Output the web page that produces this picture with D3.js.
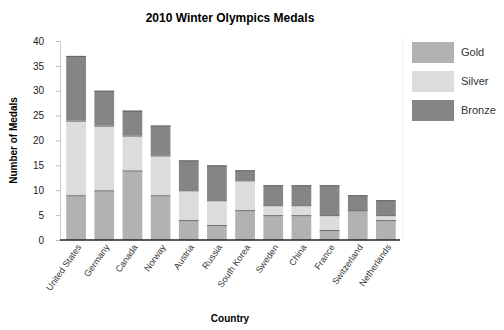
<!DOCTYPE html>
<html><head><meta charset="utf-8">
<script src="https://cdn.jsdelivr.net/npm/d3@7"></script>
<style>body{margin:0;background:#fff;}text{font-family:"Liberation Sans",Arial,sans-serif;}</style>
</head><body><svg id="c" width="504" height="330"></svg>
<script>
const countries = ["United States","Germany","Canada","Norway","Austria","Russia","South Korea","Sweden","China","France","Switzerland","Netherlands"];
const gold   = [9,10,14,9,4,3,6,5,5,2,6,4];
const silver = [15,13,7,8,6,5,6,2,2,3,0,1];
const bronze = [13,7,5,6,6,7,2,4,4,6,3,3];
const medalTypes = ["Gold","Silver","Bronze"];
const colors = ["#b2b2b2","#dcdcdc","#858585"];
const yTicks = [0,5,10,15,20,25,30,35,40];

const svg = d3.select("#c");
const margin = {left:62, right:104, top:41, bottom:90};
const W = 504, H = 330;
const x = d3.scaleBand().domain(countries).range([margin.left, W-margin.right]).paddingInner(0.3).paddingOuter(0.15);
const y = d3.scaleLinear().domain([0,40]).range([H-margin.bottom, margin.top]);

const rows = countries.map((c,i)=>({country:c, Gold:gold[i], Silver:silver[i], Bronze:bronze[i]}));
const stack = d3.stack().keys(medalTypes)(rows);

svg.append("text").attr("x",230).attr("y",22).attr("text-anchor","middle")
  .attr("font-size",12).attr("font-weight","bold").text("2010 Winter Olympics Medals");

stack.forEach((s,k)=>{
  svg.append("g").selectAll("rect").data(s).join("rect")
    .attr("x",d=>x(d.data.country)).attr("width",x.bandwidth())
    .attr("y",d=>y(d[1])).attr("height",d=>y(d[0])-y(d[1]))
    .attr("fill",colors[k]);
  svg.append("g").selectAll("line").data(s.filter(d=>d[1]>d[0])).join("line")
    .attr("x1",d=>x(d.data.country)).attr("x2",d=>x(d.data.country)+x.bandwidth())
    .attr("y1",d=>y(d[1])+0.5).attr("y2",d=>y(d[1])+0.5)
    .attr("stroke","#666").attr("stroke-width",1);
});

const ya = svg.append("g").attr("transform",`translate(${margin.left-2},0)`)
  .call(d3.axisLeft(y).tickValues(yTicks).tickSize(4).tickPadding(12));
ya.select(".domain").attr("stroke","#ccc");
ya.selectAll(".tick line").attr("stroke","#bbb");
ya.selectAll("text").attr("font-size",10).attr("fill","#222");

const xa = svg.append("g").attr("transform",`translate(0,${H-margin.bottom})`)
  .call(d3.axisBottom(x).tickSize(0).tickPadding(6));
xa.select(".domain").attr("stroke","#222").attr("stroke-width",1.5).attr("d",`M${margin.left-2},0H${W-margin.right}`);
xa.selectAll("text").attr("font-size",9).attr("fill","#333")
  .attr("text-anchor","end").attr("transform","rotate(-55)").attr("dx","-0.3em").attr("dy","0.3em");

svg.append("text").attr("transform",`translate(17,${(margin.top+H-margin.bottom)/2}) rotate(-90)`)
  .attr("text-anchor","middle").attr("font-size",10).attr("font-weight","bold").text("Number of Medals");
svg.append("text").attr("x",230).attr("y",322).attr("text-anchor","middle")
  .attr("font-size",10).attr("font-weight","bold").text("Country");

svg.append("line").attr("x1",403).attr("x2",403).attr("y1",38).attr("y2",240).attr("stroke","#eee");
const lg = svg.append("g");
medalTypes.forEach((m,i)=>{
  lg.append("rect").attr("x",412).attr("y",42+i*29).attr("width",42).attr("height",21).attr("fill",colors[i]);
  lg.append("text").attr("x",461).attr("y",56+i*29).attr("font-size",11).attr("fill","#333").text(m);
});
</script></body></html>
